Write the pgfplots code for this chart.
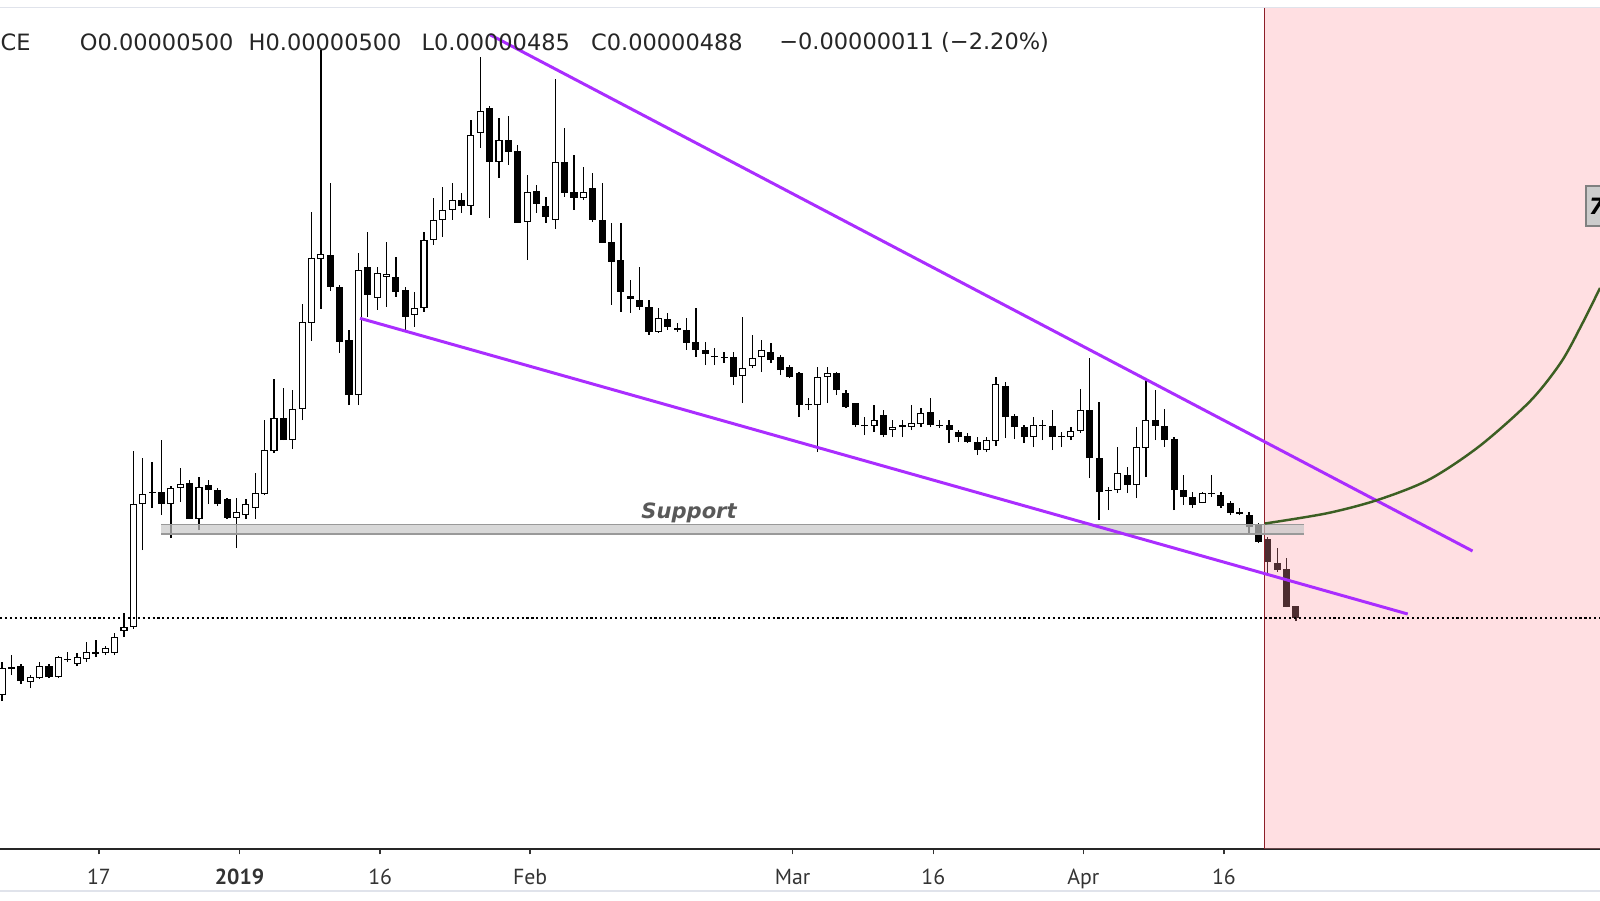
\documentclass[border=0pt]{standalone}
\usepackage{pgfplots}
\pgfplotsset{compat=1.18}
\usepackage{pgfplotstable}
\usepackage{fontspec}
\setmainfont{DejaVu Sans}
\newfontfamily\tickfont{PT Sans}

\definecolor{trend}{RGB}{170,45,255}
\definecolor{curve}{RGB}{60,95,35}
\definecolor{pinkov}{RGB}{255,150,160}
\definecolor{redline}{RGB}{140,30,40}
\definecolor{frame}{RGB}{224,227,235}

% daily candles, d = days from 1 Jan 2019, prices in satoshi
\pgfplotstableread{
d o h l c
-25 411 444 405 438
-24 437 451 431 439
-23 440 442 422 425
-22 424 431 418 429
-21 428 444 427 440
-20 440 442 428 429
-19 429 450 428 449
-18 446 454 444 447
-17 442 453 440 449
-16 447 464 444 454
-15 452 466 449 454
-14 453 460 451 458
-13 453 473 451 469
-12 475 493 469 479
-11 479 655 477 602
-10 602 648 556 612
-9 613 644 598 614
-8 614 666 591 602
-7 602 620 568 618
-6 618 638 604 622
-5 623 626 587 587
-4 587 629 576 619
-3 621 626 602 616
-2 616 618 600 602
-1 607 608 587 588
0 588 608 558 594
1 591 607 587 602
2 598 633 587 613
3 612 686 611 656
4 655 727 653 688
5 688 718 666 666
6 666 716 657 697
7 697 802 686 784
8 783 894 765 848
9 847 1056 797 852
10 851 923 815 819
11 819 821 753 764
12 766 776 701 711
13 711 853 701 836
14 839 874 789 811
15 808 839 796 833
16 829 864 799 832
17 829 849 809 814
18 816 819 776 789
19 791 814 779 798
20 798 874 794 866
21 866 908 861 886
22 886 919 869 896
23 896 923 886 906
24 906 913 893 900
25 900 986 891 971
26 973 1049 958 995
27 998 1000 888 944
28 944 988 928 966
29 966 990 941 954
30 955 961 883 883
31 884 931 846 914
32 915 921 893 902
33 900 909 883 889
34 886 1027 877 944
35 944 978 909 913
36 914 951 896 908
37 908 939 906 914
38 918 933 884 886
39 886 923 863 863
40 864 883 801 844
41 846 883 794 814
42 810 826 793 807
43 806 839 796 799
44 799 806 771 774
45 774 798 773 788
46 787 793 776 779
47 777 783 774 776
48 776 788 756 763
49 764 798 749 756
50 756 764 741 752
51 750 758 741 749
52 749 754 743 748
53 749 754 721 729
54 730 789 703 738
55 740 771 738 748
56 749 766 734 756
57 754 763 743 746
58 749 751 731 736
59 739 741 728 729
60 733 734 689 701
61 702 708 696 701
62 701 739 654 729
63 729 739 703 733
64 733 734 711 716
65 713 716 698 699
66 703 703 679 681
67 681 689 671 680
68 680 701 674 686
69 691 696 669 671
70 676 686 669 679
71 679 686 669 681
72 679 701 676 683
73 682 698 679 693
74 694 708 679 681
75 681 686 678 680
76 681 686 663 676
77 674 676 664 669
78 670 673 663 664
79 664 669 651 656
80 656 669 654 666
81 665 729 660 722
82 720 724 668 689
83 690 692 667 679
84 679 681 663 669
85 669 689 659 681
86 680 686 666 681
87 680 696 656 669
88 670 674 659 669
89 669 679 666 675
90 675 717 673 696
91 696 748 628 648
92 648 704 586 614
93 615 619 596 616
94 616 659 613 633
95 631 639 613 621
96 621 679 608 659
97 658 727 629 686
98 686 716 666 680
99 680 697 659 666
100 667 669 596 616
101 616 631 601 609
102 609 614 598 601
103 603 614 603 613
104 612 631 609 613
105 611 614 598 600
106 603 605 591 593
107 594 598 591 592
108 591 594 573 579
109 581 583 563 564
110 567 569 533 544
111 543 558 534 536
112 537 548 499 499
113 500 500 485 488
}\candles

\pgfplotsset{candle/.style={forget plot, draw=none, mark=none, mark size=0pt,
    error bars/y dir=plus, error bars/y explicit, error bars/error mark=none}}

\begin{document}
\begin{tikzpicture}
\begin{axis}[
    at={(0,0)}, anchor=south west,
    scale only axis, width=16cm, height=8.41cm,
    xmin=-25.227, xmax=145.44, ymin=257, ymax=1098,
    axis x line*=bottom, hide y axis,
    axis line style={black!85, line width=0.45pt},
    xtick={-14.68,0.32,15.32,31.32,59.32,74.32,90.32,105.32},
    xticklabels={17,\textbf{2019},16,Feb,Mar,16,Apr,16},
    tick align=outside, major tick length=1.5pt,
    xtick style={black!80, line width=0.4pt},
    xticklabel style={font=\tickfont\fontsize{6.2}{7}\selectfont, text=black!80,
        anchor=north, inner sep=0pt, yshift=-4pt},
]
% wicks
\addplot[candle, error bars/error bar style={draw=black, line width=0.36pt}]
    table[x=d, y=l, y error plus expr=\thisrow{h}-\thisrow{l}] {\candles};
% bearish bodies
\addplot[candle, restrict expr to domain={\thisrow{o}-\thisrow{c}}{0.5:10000},
    error bars/error bar style={draw=black, line width=2pt}]
    table[x=d, y=c, y error plus expr={max(\thisrow{o}-\thisrow{c},1.5)}] {\candles};
% bullish bodies: outline then white inside
\addplot[candle, restrict expr to domain={\thisrow{c}-\thisrow{o}}{0:10000},
    error bars/error bar style={draw=black, line width=2pt}]
    table[x=d, y=o, y error plus expr={max(\thisrow{c}-\thisrow{o},1.5)}] {\candles};
\addplot[candle, restrict expr to domain={\thisrow{c}-\thisrow{o}}{2.5:10000},
    error bars/error bar style={draw=white, line width=1.4pt}]
    table[x=d, y expr=\thisrow{o}+1, y error plus expr={\thisrow{c}-\thisrow{o}-2}] {\candles};

% shaded future region
\addplot[forget plot, draw=none, fill=pinkov, fill opacity=0.3]
    coordinates {(109.63,257) (145.44,257) (145.44,1098) (109.63,1098)} -- cycle;
\addplot[forget plot, redline, line width=0.35pt]
    coordinates {(109.63,257) (109.63,1098)};

% support zone
\addplot[forget plot, draw=none, fill=black!22, fill opacity=0.7]
    coordinates {(-8.05,572.3) (113.9,572.3) (113.9,581.5) (-8.05,581.5)} -- cycle;
\addplot[forget plot, black!40, line width=0.5pt] coordinates {(-8.05,581.5) (113.9,581.5)};
\addplot[forget plot, black!40, line width=0.5pt] coordinates {(-8.05,572.3) (113.9,572.3)};
\node[font=\fontsize{6}{7}\selectfont\bfseries\itshape, text=black!65]
    at (axis cs:48.27,593) {Support};

% last price
\addplot[forget plot, black, line width=0.35pt, dash pattern=on 0.6pt off 0.8pt]
    coordinates {(-25.227,488) (145.44,488)};

% wedge
\addplot[forget plot, trend, line width=0.85pt] coordinates {(27.04,1071.3) (131.84,555)};
\addplot[forget plot, trend, line width=0.85pt] coordinates {(13.17,787.7) (124.93,492)};

% projected path
\addplot[forget plot, curve, line width=0.7pt, smooth] coordinates {
    (109.7,582.5) (116.3,592.7) (121.7,606) (127.2,626.4) (132.6,660)
    (138.0,705) (141.3,744) (143.5,781.5) (145.44,818)};

% header
\begin{scope}[font=\fontsize{6.4}{7.7}\selectfont, text=black!85]
\node[anchor=west, inner sep=0pt] at (rel axis cs:0,0.9596) {CE};
\node[anchor=west, inner sep=0pt] at (rel axis cs:0.0495,0.9596) {O0.00000500};
\node[anchor=west, inner sep=0pt] at (rel axis cs:0.1550,0.9596) {H0.00000500};
\node[anchor=west, inner sep=0pt] at (rel axis cs:0.2630,0.9596) {L0.00000485};
\node[anchor=west, inner sep=0pt] at (rel axis cs:0.3690,0.9596) {C0.00000488};
\node[anchor=west, inner sep=0pt] at (rel axis cs:0.4866,0.9596) {−0.00000011 (−2.20\%)};
\end{scope}
\node[anchor=west, fill=black!20, draw=black!50, line width=0.6pt, inner xsep=0.8pt,
    minimum height=8pt, font=\fontsize{6.4}{7.7}\selectfont\bfseries\itshape]
    at (rel axis cs:0.9906,0.7646) {74};
\end{axis}
\draw[frame, line width=0.4pt] (0,8.415) -- (16,8.415);
\draw[frame, line width=0.5pt] (0,-0.42) -- (16,-0.42);
\pgfresetboundingbox
\path[use as bounding box] (0,-0.51) rectangle (16,8.49);
\end{tikzpicture}
\end{document}
